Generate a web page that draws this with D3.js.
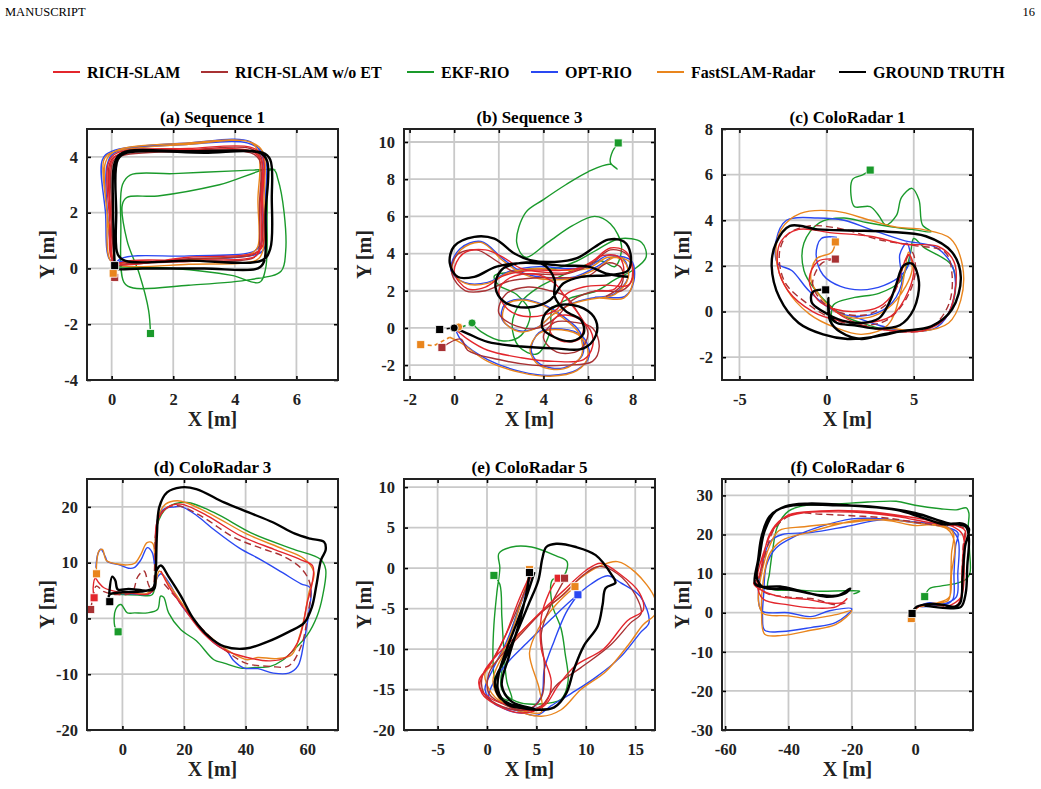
<!DOCTYPE html>
<html>
<head>
<meta charset="utf-8">
<script src="https://cdn.jsdelivr.net/npm/d3@7"></script>
<style>
  body { margin: 0; background: #fff; }
  text { font-family: "Liberation Serif", "Times New Roman", serif; }
</style>
</head>
<body>
<svg id="fig" width="1041" height="789"></svg>
<script>
// methods shown in the legend, drawn in this order of keys
var methods = ['RICH-SLAM', 'RICH-SLAM w/o ET', 'EKF-RIO', 'OPT-RIO', 'FastSLAM-Radar', 'GROUND TRUTH']
var keys = ['rich', 'noet', 'ekf', 'opt', 'fast', 'gt']
var colors = { rich: '#e3262c', noet: '#a83133', ekf: '#1a9a2b', opt: '#2a48f2', fast: '#e9851d', gt: '#000000' }

var titles = ['(a) Sequence 1', '(b) Sequence 3', '(c) ColoRadar 1', '(d) ColoRadar 3', '(e) ColoRadar 5', '(f) ColoRadar 6']
var xDomains = [[-0.8, 7.35], [-2.25, 9], [-6, 8.4], [-11.5, 70], [-8.4, 17], [-61, 18.3]]
var yDomains = [[-4, 5], [-2.8, 10.7], [-3, 8], [-20, 25], [-20, 11], [-30, 34.2]]
var xTickVals = [[0, 2, 4, 6], [-2, 0, 2, 4, 6, 8], [-5, 0, 5], [0, 20, 40, 60], [-5, 0, 5, 10, 15], [-60, -40, -20, 0]]
var yTickVals = [[-4, -2, 0, 2, 4], [-2, 0, 2, 4, 6, 8, 10], [-2, 0, 2, 4, 6, 8], [-20, -10, 0, 10, 20],
  [-20, -15, -10, -5, 0, 5, 10], [-30, -20, -10, 0, 10, 20, 30]]

// ---- (a) Sequence 1 ----
var a_gt = [[0.1,0.1],[0.05,0],[1,0],[3,0],[4.75,0],[4.95,0.25],[5.0,2],[5.05,3.85],[4.8,4.15],[3,4.15],[0.5,4.15],[0.2,3.9],[0.15,2],[0.2,0.5],[0.45,0.27],[2.5,0.28],[4.9,0.3],[5.15,0.7],[5.2,2.5],[5.15,3.9],[4.9,4.15],[2.5,4.2],[0.35,4.15],[0.1,3.8],[0.05,2],[0.1,0.1]]
var a_rich = [[0.05,-0.1],[0.3,0.2],[2.5,0.3],[4.6,0.4],[4.8,0.6],[4.85,2.2],[4.85,3.9],[4.55,4.2],[2.5,4.25],[0.3,4.1],[0,3.85],[-0.05,2],[0,0.35],[0.3,0.15],[2.5,0.4],[4.65,0.55],[4.9,0.8],[4.9,2.5],[4.9,4.05],[4.5,4.35],[2.5,4.3],[0.2,4.15],[-0.1,3.8],[-0.05,1.5],[0.05,-0.3]]
var a_noet = [[0.1,-0.35],[0.05,0.0],[0.35,0.12],[2.5,0.25],[4.55,0.35],[4.75,0.55],[4.8,2.3],[4.8,3.9],[4.5,4.15],[2.5,4.2],[0.35,4.05],[0.05,3.85],[0,2],[0.05,0.3],[0.35,0.2],[2.5,0.35],[4.6,0.5],[4.85,0.75],[4.85,2.5],[4.85,4.0],[4.5,4.3],[2.5,4.25],[0.25,4.1],[-0.05,3.8],[0,1.5],[0.1,0.05]]
var a_ekf = [[0.1,0.05],[2,0.0],[3.9,-0.25],[4.8,-0.5],[5.0,0],[5.05,2],[5.1,3.5],[5.3,3.55],[4,3.5],[2,3.4],[0.6,3.35],[0.35,3.0],[0.3,1.5],[0.4,-0.5],[0.7,-0.7],[2.5,-0.6],[4.5,-0.4],[5.5,-0.1],[5.65,0.6],[5.6,2.0],[5.4,3.2],[5.25,3.55],[3.5,3.0],[1.5,2.6],[0.5,2.55],[0.35,2.3],[0.5,1.0],[0.9,-0.2],[1.2,-1.5],[1.26,-2.33]]
var a_opt = [[0.05,0.0],[0.3,0.35],[2.5,0.45],[4.6,0.6],[4.85,0.9],[4.9,2.5],[4.9,4.0],[4.5,4.55],[2.5,4.5],[0.0,4.2],[-0.3,3.9],[-0.2,2],[-0.05,0.3],[0.3,0.25],[2.5,0.3],[4.7,0.5],[4.95,0.7],[5.0,2.5],[4.95,4.1],[4.4,4.5],[2.5,4.45],[0.1,4.15],[-0.15,3.7],[-0.1,1.5],[0.05,0.0]]
var a_fast = [[0.1,-0.2],[0.0,0.1],[0.4,0.2],[2.5,0.3],[4.55,0.55],[4.75,0.8],[4.75,2.5],[4.8,3.9],[4.55,4.5],[2.5,4.45],[0,4.15],[-0.25,3.9],[-0.15,2],[-0.05,0.3],[0.3,0.1],[2.5,0.15],[4.7,0.3],[4.9,0.6],[4.95,2.5],[4.9,4.2],[4.45,4.55],[2.5,4.5],[0.1,4.2],[-0.2,3.8],[-0.1,1.5],[0.1,-0.2]]
var a_ends = [['noet',0.1,-0.32],['fast',0.05,-0.17],['gt',0.1,0.1],['ekf',1.26,-2.33]]

// ---- (b) Sequence 3 ----
var b_gt = [[0,0],[0.6,-0.3],[1.5,-0.75],[3,-1.0],[4.5,-1.1],[5.8,-1.1],[6.35,-0.4],[6.35,0.4],[5.8,1.05],[4.8,1.25],[4.1,0.8],[3.95,0.0],[4.5,-0.5],[5.3,-0.7],[5.8,-0.3],[5.7,0.4],[5.0,0.9],[4.5,1.7],[4.5,2.6],[4.0,3.4],[3.0,3.5],[2.1,3.1],[1.85,2.2],[2.25,1.4],[3.3,1.1],[4.3,1.5],[4.9,2.4],[5.7,2.75],[7.0,2.85],[7.8,3.1],[7.9,4.0],[7.6,4.65],[6.9,4.75],[6.3,4.35],[5.5,3.75],[4.5,3.55],[3.4,3.65],[2.7,4.0],[1.8,4.8],[0.9,4.9],[0,4.4],[-0.2,3.5],[0.15,2.75],[0.9,2.75],[1.9,3.3],[3.2,3.5],[4.8,3.35],[6.0,3.3],[6.9,2.9],[7.8,2.75]]
var b_rich = [[0.0,0.0],[0.6,-0.6],[1.5,-1.2],[3,-1.6],[4.5,-1.8],[5.8,-1.7],[6.2,-1.0],[6.1,-0.1],[5.4,0.6],[4.6,0.6],[4.3,-0.2],[4.8,-0.7],[5.6,-0.6],[5.8,0.2],[5.3,1.2],[4.9,1.8],[4.5,2.4],[3.6,2.9],[2.5,2.7],[2.0,2.0],[2.4,1.0],[3.4,0.6],[4.6,1.0],[5.0,1.8],[5.8,2.2],[6.8,2.3],[7.8,2.3],[8.0,3.0],[7.7,4.1],[7.0,4.3],[6.2,3.6],[5.2,3.0],[4.0,3.0],[3.0,3.2],[2.2,3.8],[1.4,4.2],[0.4,4.0],[0.0,3.0],[0.6,2.1],[1.4,2.2],[2.2,2.8],[3.5,3.1],[4.8,3.1],[5.8,3.3],[6.7,3.9],[7.4,3.8],[7.6,3.0],[7.2,2.1],[6.3,2.0]]
var b_noet = [[-0.55,-1.05],[0.3,-0.6],[0.6,-1.2],[2,-1.7],[3.5,-2.0],[5,-2.0],[6.2,-1.8],[6.5,-1.0],[6.2,0],[5.4,0.3],[4.5,0.3],[4.0,-0.5],[4.6,-1.3],[5.6,-1.2],[6.0,-0.3],[5.5,0.9],[5.0,1.7],[4.3,2.0],[3.3,2.2],[2.3,1.8],[2.0,0.8],[2.8,0.1],[3.8,0.0],[4.6,0.6],[5.3,1.5],[6.4,2.0],[7.5,2.0],[8.0,2.7],[7.8,3.9],[7.0,4.2],[6.1,3.4],[5.0,2.9],[3.8,2.9],[2.7,3.0],[1.9,3.6],[1.0,4.2],[0.1,3.9],[-0.1,2.9],[0.5,2.0],[1.4,2.0],[2.4,2.5],[3.7,2.7],[5.0,2.7],[6.0,2.8],[6.9,3.5],[7.5,3.2],[7.5,2.3],[6.8,1.7]]
var b_ekf = [[0.8,0.27],[1.2,-0.2],[2.2,-0.7],[3.0,-0.4],[3.4,0.8],[2.8,1.8],[2.0,2.3],[1.8,2.8],[2.5,3.0],[3.6,3.2],[4.5,3.2],[5.5,3.6],[6.4,4.2],[7.4,4.8],[8.4,4.6],[8.6,3.8],[8.0,3.1],[7.2,2.6],[6.4,2.0],[5.2,1.6],[4.4,1.0],[4.3,-0.2],[3.7,-1.4],[2.9,-1.0],[2.6,0.2],[3.0,1.4],[3.8,2.2],[4.8,2.8],[5.7,3.3],[6.6,3.6],[7.2,3.3],[7.5,4.4],[7.0,5.6],[6.3,6.0],[5.3,5.5],[4.2,4.6],[3.2,3.8],[2.8,4.6],[3.2,6.2],[4.0,6.9],[5.0,7.7],[6.0,8.4],[7.0,8.8],[7.3,8.55],[7.0,8.9],[7.1,9.5],[7.35,9.95]]
var b_opt = [[0.1,-0.2],[0.4,-0.8],[1.5,-1.7],[3,-2.35],[4.3,-2.55],[5.5,-2.25],[6.05,-1.5],[5.75,-0.45],[4.8,-0.05],[3.8,-0.25],[3.45,-1.2],[3.85,-1.95],[4.9,-2.15],[5.75,-1.45],[5.65,-0.25],[4.85,0.65],[4.0,1.25],[3.0,1.55],[2.25,1.25],[2.15,0.45],[2.9,-0.15],[3.75,0.05],[4.45,0.75],[5.35,1.35],[6.45,1.65],[7.65,1.7],[8.05,2.5],[7.95,3.6],[7.2,3.85],[6.4,3.3],[5.4,2.75],[4.2,2.7],[3.1,2.95],[2.2,3.7],[1.2,4.65],[0.25,4.25],[-0.15,3.1],[0.45,2.45],[1.5,2.45],[2.5,3.05],[3.8,3.3],[5.0,3.2],[6.0,3.3],[6.9,3.9],[7.6,3.7],[7.8,2.75],[7.2,1.85],[6.3,1.65]]
var b_fast = [[-0.2,-0.5],[0.3,-0.8],[1.5,-1.8],[3,-2.4],[4.3,-2.6],[5.5,-2.3],[6.0,-1.5],[5.7,-0.5],[4.8,-0.1],[3.8,-0.3],[3.4,-1.2],[3.8,-2.0],[4.9,-2.2],[5.7,-1.5],[5.6,-0.3],[4.8,0.6],[4.0,1.2],[3.0,1.5],[2.3,1.2],[2.2,0.4],[2.9,-0.2],[3.7,0.0],[4.4,0.7],[5.3,1.3],[6.4,1.6],[7.6,1.6],[8.0,2.4],[7.9,3.5],[7.2,3.8],[6.4,3.2],[5.4,2.7],[4.2,2.6],[3.1,2.9],[2.2,3.6],[1.2,4.6],[0.3,4.2],[-0.1,3.1],[0.5,2.4],[1.5,2.4],[2.5,3.0],[3.8,3.2],[5.0,3.1],[6.0,3.2],[6.9,3.8],[7.6,3.6],[7.8,2.7],[7.2,1.8],[6.3,1.6]]
var b_links = [['gt',[[-0.65,-0.08],[0,0]]],['fast',[[-1.5,-0.9],[-0.9,-0.95],[-0.2,-0.5]]],['ekf',[[0.8,0.27],[0.35,0.05]]]]
var b_ends = [['gt',-0.65,-0.08],['fast',-1.5,-0.9],['noet',-0.55,-1.05],['ekf',7.35,9.95]]
var b_starts = [['fast',0.2,0.05],['gt',0,0],['ekf',0.8,0.27]]

// ---- (c) ColoRadar 1 ----
var c_gt = [[0,0.97],[-0.8,0.85],[-0.85,0.4],[-0.2,0.0],[0.9,-0.4],[2,-0.5],[3,-0.3],[3.6,0.4],[4.0,1.2],[4.4,2.0],[4.9,2.1],[5.3,1.3],[5.0,0.1],[4.2,-0.6],[3.0,-0.75],[1.6,-0.6],[0.6,-0.5],[0.2,-0.2],[0.1,0.6],[0.2,-0.4],[0.8,-0.9],[2,-1.2],[3.2,-1.0],[4.4,-0.85],[6.0,-0.65],[7.2,0.1],[7.7,1.5],[7.2,2.6],[5.7,3.3],[3.5,3.5],[1.5,3.55],[-0.5,3.6],[-2.1,3.75],[-2.9,3.0],[-3.15,2.0],[-2.7,0.6],[-1.6,-0.5],[-0.2,-1.0],[1.2,-1.2],[2.8,-1.1],[4.3,-0.85]]
var c_rich = [[0.5,2.3],[-0.5,2.2],[-1,1.4],[-0.5,0.5],[0.5,0.1],[1.7,0.0],[3,0.2],[3.9,0.9],[4.3,1.8],[4.7,2.5],[5.0,2.0],[4.7,0.9],[3.7,-0.2],[2.2,-0.5],[0.7,-0.4],[-0.8,0.0],[-2.2,0.9],[-2.8,2.0],[-2.6,3.1],[-1.6,3.6],[0.3,3.45],[2.5,3.3],[4.5,2.95],[6.4,2.85],[7.3,2.2],[7.35,0.8],[6.8,-0.3],[5.5,-0.85],[4,-0.85],[2.5,-0.7],[1,-0.25],[0.1,0.3]]
var c_noet = [[0.5,2.3],[-0.3,2.1],[-0.8,1.2],[-0.2,0.4],[0.8,-0.05],[2.2,-0.15],[3.4,0.3],[4.1,1.2],[4.5,2.2],[4.9,2.6],[5.1,1.8],[4.6,0.6],[3.4,-0.4],[1.8,-0.6],[0.3,-0.3],[-1.2,0.4],[-2.4,1.3],[-2.7,2.6],[-2.2,3.4],[-1,3.75],[1,3.6],[3,3.15],[5,2.9],[6.8,2.6],[7.2,1.6],[7.0,0.3],[6,-0.7],[4.5,-0.9],[3,-0.75]]
var c_ekf = [[0.3,-0.5],[0.4,0.3],[1.5,0.6],[3,0.8],[4.2,1.3],[4.8,2.5],[5.0,3.2],[5.6,2.8],[7.2,2.0],[7.3,0.5],[6.5,-0.5],[5,-0.8],[3.5,-0.8],[2,-0.5],[0.8,-0.1],[-0.7,1.0],[-1.3,1.8],[-1.3,3],[-0.4,3.9],[1,4.1],[2.3,3.9],[3.8,3.7],[4.9,3.6],[6,3.5],[5.5,3.8],[5.3,4.9],[4.9,5.4],[4.3,5.0],[4.0,4.2],[3.4,3.8],[3.0,4.2],[2.5,4.6],[1.6,4.6],[1.4,5.1],[1.5,5.8],[2.1,6.0],[2.5,6.2]]
var c_opt = [[0.6,3.25],[-0.3,3.2],[-0.6,2.5],[-0.2,1.6],[0.8,1.1],[2,0.95],[3.3,1.15],[4.3,1.6],[4.8,2.3],[4.6,3.0],[4.2,2.5],[4.3,1.2],[3.5,0.2],[2,-0.2],[0.5,0.0],[-1,0.9],[-2,1.8],[-2.8,2.1],[-2.9,3.1],[-2.3,4.0],[-0.5,4.1],[1,4.0],[2.5,3.6],[4.5,3.1],[6.3,2.8],[7.3,1.8],[7.2,0.3],[6.3,-0.7],[4.5,-0.85],[3,-0.6],[1.5,-0.2]]
var c_fast = [[0.5,3.05],[0.3,2.6],[-0.6,2.3],[-0.9,1.4],[-0.3,0.6],[0.5,0.0],[1.8,-0.3],[3,-0.1],[4,0.5],[4.9,1.8],[4.7,2.6],[4.3,1.0],[3.5,-0.6],[2,-1.0],[0.5,-0.7],[-1,-0.1],[-2.3,1],[-2.9,2.4],[-2.6,3.6],[-1.5,4.3],[0.5,4.4],[2.5,4.0],[4,3.7],[5.5,3.6],[7.1,3.2],[7.8,2.0],[7.7,0.5],[7,-0.5],[5.5,-0.85],[3.5,-0.7]]
var c_ends = [['ekf',2.5,6.2],['fast',0.5,3.05],['noet',0.5,2.3],['gt',-0.05,0.95]]

// ---- (d) ColoRadar 3 ----
var d_gt = [[-4.3,4.3],[-3.3,7.5],[-2.3,6.8],[-1.5,5.2],[2,5.3],[8,5.0],[10.3,5.3],[10.8,8],[11.2,15],[12,20],[14.5,22.6],[19,23.5],[24,23.2],[33,20.8],[41,19],[49,17.2],[56,15.2],[61,14.3],[65.5,13.7],[66,12.3],[64.5,10.5],[63,6],[61.5,2],[59,-0.8],[54,-2.4],[47,-4.2],[40,-5.4],[33,-5],[28,-3.2],[23,0],[19,4],[15,7.5],[12.5,9.5],[11,8.5],[10,5.5],[6,4.8],[0,4.7],[-4.3,4.2],[-4.1,3.0]]
var d_rich = [[-9.2,3.7],[-9.5,5.5],[-8.8,7.2],[-7.8,6.5],[-6,5.5],[-2,4.8],[3,4.5],[8.5,4.4],[10.3,5.5],[10.8,12],[11.2,17.2],[14.6,19.9],[19,20.5],[27.6,18.4],[38.4,14.8],[49.2,12.4],[58,10.5],[61.8,9.4],[61.5,6],[60,2.8],[58.5,-1.5],[56.8,-4.4],[53,-7.0],[48,-7.6],[40.5,-7.0],[33,-5.6],[26,-2.5],[20,1.8],[15,5.8],[12.5,8.5]]
var d_noet = [[-10.3,1.6],[-9.5,4],[-8.5,5.8],[-6,4.8],[-2,4.3],[3,4.6],[5,7.5],[7,8.5],[8.5,6],[9.8,4.8],[10.5,10],[11,16],[13.5,19.5],[18,20.2],[26,18.2],[36,14.6],[45,12.6],[52,11.2],[58,9.0],[61,6],[60,0],[58,-5],[54,-8.5],[48,-8.6],[40,-8],[33,-5.5],[27,-2.5],[22,0.5],[17,4],[13,6.5]]
var d_ekf = [[-4.3,4.5],[0,4.3],[5,4.2],[9.5,4.2],[10.5,5.5],[10.8,10],[11.2,16.6],[14.6,19.9],[21,20.8],[29.7,19],[42.7,15.1],[55.7,12.4],[64.3,10.6],[66,8.8],[65,4],[63.2,0.4],[60,-3],[55.7,-5.6],[52,-7.5],[48,-8.6],[43,-8.8],[38.4,-8.9],[33,-8],[29.7,-7.4],[24,-4],[18.9,-2.0],[15,1],[13.4,3.8],[12.4,4.0],[11.4,1.6],[8.1,1.0],[4,1.0],[1.6,1.0],[-0.5,2.5],[-2.2,1.6],[-2.5,-1.4],[-1.4,-2.4]]
var d_opt = [[-8.6,9.1],[-8,11.5],[-7,12.4],[-5.5,11],[-4.9,10.2],[-1,9.6],[2,9.0],[3.8,9.1],[6,10.5],[8.1,12.7],[9.7,11.8],[10.5,9.5],[10.9,14],[11.5,18],[13.5,19.6],[17,20],[19,20.1],[24,18.5],[30,15.8],[38,12.6],[45,10.5],[52,8.2],[58,6.2],[61,5.5],[60.5,1],[59,-4],[57,-8.5],[54,-9.8],[49,-9.8],[44,-9.0],[39.5,-8.9],[36,-7.5],[34,-5.9],[30,-4.5],[25,-1.5],[19,2.5],[15,6.5],[12.5,8],[11,7],[9,4.5],[3,4.4],[-2,4.5]]
var d_fast = [[-8.4,8.0],[-8.4,9.6],[-7.6,12.1],[-6.5,12.4],[-5.2,10.4],[-2,9.8],[1.5,9.6],[4,9.9],[6,11.5],[8,13.6],[9.8,13.5],[10.6,11],[10.8,15],[11.8,18.5],[14,20.5],[17.8,21.1],[21,20.7],[29.7,18.4],[40.5,15.1],[52.4,12.4],[59,10.7],[62.2,8.2],[60.5,4.5],[59,0],[57.5,-3.2],[55,-6.5],[50,-7.2],[44,-7.0],[40.5,-7.4],[35,-6.0],[30,-4],[25,-1.5],[20,2.2],[15,6.2],[12,8.5],[10.5,6],[8,4.5],[2,4.6],[-2,4.4]]
var d_ends = [['fast',-8.4,8.0],['rich',-9.2,3.7],['noet',-10.3,1.6],['gt',-4.1,3.0],['ekf',-1.4,-2.4]]

// ---- (e) ColoRadar 5 ----
var e_gt = [[4.8,-0.5],[4.0,-3.5],[3.0,-6.8],[2.0,-10],[1.2,-13],[1.1,-15],[2,-16.8],[3.5,-17.3],[5,-17.5],[6.8,-17.2],[8,-15.5],[8.8,-12.5],[9.8,-9.6],[11.2,-7.2],[11.7,-4.5],[12,-2.5],[13,-1.8],[12.6,-0.8],[11,1.6],[9,2.6],[7,3.0],[6,2.6],[5.6,1.2],[5.2,-1.5],[4.2,-4.5],[3,-8],[1.8,-11.3],[0.8,-14],[1.3,-16],[2.8,-17],[4.8,-17.4],[2.5,-16.5],[1.5,-14.5],[2.2,-11],[3.2,-7],[4.0,-3],[4.3,-0.6]]
var e_rich = [[4.5,-0.5],[3.2,-4],[1.8,-8.5],[0.3,-12],[-0.8,-13.8],[-0.5,-15.5],[0.8,-16.8],[3.5,-17.9],[5.8,-17],[7.2,-14.5],[9,-12],[11.8,-10],[14.2,-6.5],[15.8,-5.2],[15.4,-3],[13.5,-0.8],[11.5,0.6],[10,-0.3],[8,-2.5],[5.8,-5],[3.5,-7.8],[1.2,-10.5],[-0.3,-12.8],[-0.7,-14.8],[0.5,-16.2],[2.5,-17],[4.5,-17.6],[6,-16.5],[6.5,-14],[5.5,-10],[5.5,-6],[6.3,-3],[7.1,-1.3]]
var e_noet = [[4.6,-0.6],[3.5,-3.8],[2,-8],[0.5,-11.5],[-0.5,-13.5],[-0.3,-15.5],[1,-16.8],[3.5,-17.6],[5.5,-17],[7,-14.5],[9.5,-12.3],[12.5,-9.5],[14.5,-6.8],[15.6,-5.6],[15,-3.3],[13.2,-0.7],[11.3,0.2],[9.8,-0.8],[7.8,-3.2],[5.4,-5.6],[3.2,-8.5],[1.3,-11],[0.2,-13],[0.2,-15.5],[2,-17],[4,-17.5],[5.5,-16],[5.8,-12],[5.5,-8],[6.5,-4.5],[7.9,-1.3]]
var e_ekf = [[4.5,-0.5],[3.5,-4],[2.4,-8],[1.6,-12],[1.5,-15],[3,-16.5],[5.2,-16.8],[7.5,-16.2],[8.2,-14],[7.9,-10.5],[7.5,-7.5],[6.6,-4.5],[6.6,-1.5],[7.8,-0.9],[8.1,0.8],[7,1.5],[4.5,2.6],[2.5,2.6],[1.2,1.8],[1.3,0],[1.0,-3],[0.7,-7],[0.6,-11],[0.8,-14],[1.5,-16],[2.5,-16.3],[2.0,-14],[1.7,-10],[1.5,-6],[1.3,-2],[0.7,-0.9]]
var e_opt = [[4.5,-0.6],[3.4,-4.5],[2.0,-9],[0.6,-12.5],[-0.2,-15],[0.8,-16.8],[3,-17.6],[5,-18.2],[6.5,-17],[8.5,-15.5],[11,-13.5],[13.5,-11],[15.5,-8],[16.4,-6.7],[15.5,-3.5],[13.5,-1.8],[12.2,-0.95],[10.5,-2],[8.5,-4],[6.5,-6.3],[4,-9.3],[2.2,-11.5],[0.8,-13.8],[0.2,-16],[2,-17.5],[4,-17.8],[5.5,-15.8],[5.8,-12.5],[6.8,-9],[8,-5.5],[9.2,-3.3]]
var e_fast = [[4.4,-0.3],[3.5,-4],[2.3,-8.5],[1.0,-11.5],[-0.2,-13],[0.5,-15.5],[2.5,-17.3],[5.5,-18.3],[7.5,-17.5],[9.5,-15],[12,-12.8],[14.3,-9.5],[15.8,-7],[17,-5.7],[17,-3.8],[15,-0.5],[13.2,0.8],[11.5,0.3],[9.5,-1.2],[7.2,-3.8],[5,-6],[2.8,-8.8],[1.3,-11.5],[0.6,-14],[1.5,-16.5],[3.5,-17.6],[5.5,-17.8],[5.3,-15],[4.3,-10.5],[5.2,-7.5],[7,-4.5],[8.9,-2.3]]
var e_ends = [['ekf',0.7,-0.9],['fast',4.3,-0.2],['gt',4.3,-0.55],['rich',7.2,-1.25],['noet',7.85,-1.25],['fast',8.9,-2.3],['opt',9.2,-3.3]]

// ---- (f) ColoRadar 6 ----
var f_gt = [[-1,0],[0.5,1.5],[4,2.2],[9,2.0],[12.5,1.5],[14.3,2.6],[15,9],[15.8,17],[17,21.5],[15,22.8],[9,22.6],[2,24.4],[-6,26.3],[-20,27.4],[-34,27.9],[-41,27.2],[-46,24.6],[-48.5,19.5],[-49.6,13.5],[-50.6,7.5],[-49,6.7],[-42.7,6.7],[-35.4,5.4],[-28,4.1],[-22,5.0],[-20.5,6.2],[-24,4.5],[-30,4.5],[-40,6.0],[-48,6.5],[-50,9],[-49,15],[-47.5,21],[-44,26],[-38,27.5],[-26,27.5],[-12,27],[0,25.5],[10,23],[16,22],[17,19],[16.5,12],[16,5],[14.5,1.5],[10,1.2],[3,1.8]]
var f_rich = [[0.3,1.2],[4,2.2],[9,1.8],[13,1.8],[14.5,4],[14.8,10],[15.3,17],[15.8,21],[12,22.5],[5,23],[-5,24.5],[-15,25.5],[-25,25.8],[-35,25.6],[-42,24],[-46,20],[-48,14],[-49.5,9],[-51,7.5],[-48,5.5],[-42,4],[-34,3.4],[-28,2.5],[-23,2.6],[-21.5,3.6],[-25,1.5],[-32,1.2],[-40,2.0],[-48,3.5],[-50,8],[-48,15],[-45,21],[-40,25],[-30,26],[-18,26],[-6,25],[5,23.5],[12,22],[15,20],[15.5,12],[14.5,4],[10,1.5]]
var f_noet = [[0.3,1.2],[3,2.2],[8,1.8],[12.5,1.5],[14.5,3.2],[14.8,10],[15.2,17],[15.5,21.5],[13,22.2],[6,22.5],[-2,23.4],[-10,24.3],[-20,24.8],[-30,25.2],[-38,25.3],[-44,22],[-47,16],[-48.5,11],[-49.5,7],[-47,5],[-40,4],[-32,3.5],[-25,2.0],[-22,2.5]]
var f_ekf = [[3.05,4.1],[4.6,6.2],[8,6.8],[13,7.5],[16,8.5],[17.3,10],[17.2,16],[16.8,22],[17,25.5],[16.2,26.8],[13,26.3],[8,26.6],[0,27.5],[-6,28.5],[-15,28.3],[-25,27.8],[-34,27.5],[-40,26],[-43.5,22],[-45,16],[-46,10],[-46.5,6.5],[-44,5.8],[-38,5.8],[-30,5.5],[-22,5.6],[-17.5,5.5],[-19.5,4.8]]
var f_opt = [[0,1],[4,2.5],[10,2.2],[12,3.5],[12.3,10],[12.8,17],[13.5,20.5],[9,22],[0,23],[-10,24],[-20,24],[-30,22],[-38,19.5],[-44,16.5],[-47,12],[-47.8,5],[-48.2,-1],[-47.5,-4.5],[-42,-4.8],[-33,-3.8],[-25,-2.5],[-20,1.0],[-27,0.5],[-33,-1],[-40,0],[-48.5,0.5],[-49.5,5],[-48.5,11],[-46,18],[-42,20],[-33,20.5],[-22,22],[-10,23.8],[2,23],[10,22],[13.5,19],[13.5,10],[13,4],[8,2],[2,1.5]]
var f_fast = [[-1.2,-1.9],[1,1.5],[5,2.3],[10.5,3.2],[11.2,8],[11.5,15],[12,20.5],[8,22.5],[0,22.3],[-8,23.5],[-17,23.8],[-25,22.5],[-34,20.5],[-42,18.5],[-46,15],[-48,8],[-48.5,0],[-47.5,-5.5],[-42,-5.8],[-33,-4.5],[-25,-3],[-20,0.5],[-25,-0.5],[-33,-1.5],[-40,-0.8],[-48,-0.2],[-49.5,3],[-48.5,10],[-46,17],[-43,21],[-35,22],[-22,23],[-10,23.8],[2,22.8],[10,21.5],[12.5,18],[11.5,10],[10.8,4],[7,2.5],[1.5,1.5]]
var f_ends = [['fast',-1.2,-1.5],['gt',-0.95,-0.2],['ekf',3.05,4.1]]

var tracks = [
  { rich: a_rich, noet: a_noet, ekf: a_ekf, opt: a_opt, fast: a_fast, gt: a_gt },
  { rich: b_rich, noet: b_noet, ekf: b_ekf, opt: b_opt, fast: b_fast, gt: b_gt },
  { rich: c_rich, noet: c_noet, ekf: c_ekf, opt: c_opt, fast: c_fast, gt: c_gt },
  { rich: d_rich, noet: d_noet, ekf: d_ekf, opt: d_opt, fast: d_fast, gt: d_gt },
  { rich: e_rich, noet: e_noet, ekf: e_ekf, opt: e_opt, fast: e_fast, gt: e_gt },
  { rich: f_rich, noet: f_noet, ekf: f_ekf, opt: f_opt, fast: f_fast, gt: f_gt }
]
var endMarks = [a_ends, b_ends, c_ends, d_ends, e_ends, f_ends]
var startMarks = [[], b_starts, [], [], [], []]
var links = [[], b_links, [], [], [], []]

// layout
var colLeft = [87, 404, 722]
var rowTop = [129, 479]
var size = 251
var drawOrder = ['ekf', 'opt', 'fast', 'noet', 'rich', 'gt']
var dashedNoet = [false, false, true, true, false, true]

var svg = d3.select('#fig')

svg.append('text').attr('x', 5).attr('y', 16).attr('font-size', 12.5).text('MANUSCRIPT')
svg.append('text').attr('x', 1035).attr('y', 16).attr('text-anchor', 'end').attr('font-size', 12.5).text('16')

// legend
var legendX = [53, 201, 407, 531, 657, 839]
var gLegend = svg.append('g').attr('class', 'legend')
keys.forEach(function (k, i) {
  var g = gLegend.append('g').attr('transform', 'translate(' + legendX[i] + ',72)')
  g.append('line').attr('x1', 0).attr('x2', 27).attr('stroke', colors[k]).attr('stroke-width', 2)
  g.append('text').attr('x', 34).attr('y', 5.5)
    .attr('font-size', 16).attr('font-weight', 'bold').text(methods[i])
})

titles.forEach(function (title, i) {
  var left = colLeft[i % 3]
  var top = rowTop[Math.floor(i / 3)]

  var x = d3.scaleLinear().domain(xDomains[i]).range([0, size])
  var y = d3.scaleLinear().domain(yDomains[i]).range([size, 0])

  var g = svg.append('g').attr('transform', 'translate(' + left + ',' + top + ')')

  g.append('clipPath').attr('id', 'clip' + i)
    .append('rect').attr('width', size).attr('height', size)

  // grid
  var gGrid = g.append('g').attr('class', 'grid')
  gGrid.selectAll('line.gx').data(xTickVals[i]).enter().append('line')
    .attr('x1', function (d) { return x(d) }).attr('x2', function (d) { return x(d) })
    .attr('y1', 0).attr('y2', size)
    .attr('stroke', '#c9c9c9').attr('stroke-width', 1.8)
  gGrid.selectAll('line.gy').data(yTickVals[i]).enter().append('line')
    .attr('y1', function (d) { return y(d) }).attr('y2', function (d) { return y(d) })
    .attr('x1', 0).attr('x2', size)
    .attr('stroke', '#c9c9c9').attr('stroke-width', 1.8)

  var line = d3.line()
    .x(function (d) { return x(d[0]) })
    .y(function (d) { return y(d[1]) })
    .curve(d3.curveCatmullRom.alpha(0.5))

  var gChart = g.append('g').attr('clip-path', 'url(#clip' + i + ')')

  drawOrder.forEach(function (k) {
    var p = gChart.append('path')
      .attr('d', line(tracks[i][k]))
      .attr('fill', 'none')
      .attr('stroke', colors[k])
      .attr('stroke-width', k === 'gt' ? 2.4 : 1.4)
      .attr('stroke-linejoin', 'round')
    if (k === 'noet' && dashedNoet[i]) p.attr('stroke-dasharray', '7,4')
  })

  links[i].forEach(function (l) {
    gChart.append('path')
      .attr('d', d3.line().x(function (d) { return x(d[0]) }).y(function (d) { return y(d[1]) })(l[1]))
      .attr('fill', 'none').attr('stroke', colors[l[0]])
      .attr('stroke-width', 1.6).attr('stroke-dasharray', '4,3')
  })

  gChart.selectAll('rect.end').data(endMarks[i]).enter().append('rect')
    .attr('x', function (d) { return x(d[1]) - 4 })
    .attr('y', function (d) { return y(d[2]) - 4 })
    .attr('width', 8).attr('height', 8)
    .attr('fill', function (d) { return colors[d[0]] })
    .attr('stroke', '#fff').attr('stroke-width', 0.8)

  gChart.selectAll('circle.start').data(startMarks[i]).enter().append('circle')
    .attr('cx', function (d) { return x(d[1]) })
    .attr('cy', function (d) { return y(d[2]) })
    .attr('r', 4)
    .attr('fill', function (d) { return colors[d[0]] })
    .attr('stroke', '#fff').attr('stroke-width', 0.8)

  // axes with inward ticks on every side
  var fmt = function (t) { return String(t) }
  var gx = g.append('g').attr('transform', 'translate(0,' + size + ')')
    .call(d3.axisBottom(x).tickValues(xTickVals[i]).tickSize(-4).tickPadding(13).tickFormat(fmt))
  var gy = g.append('g')
    .call(d3.axisLeft(y).tickValues(yTickVals[i]).tickSize(-4).tickPadding(9).tickFormat(fmt))
  var gt = g.append('g')
    .call(d3.axisTop(x).tickValues(xTickVals[i]).tickSize(-4).tickFormat(''))
  var gr = g.append('g').attr('transform', 'translate(' + size + ',0)')
    .call(d3.axisRight(y).tickValues(yTickVals[i]).tickSize(-4).tickFormat(''))

  ;[gx, gy, gt, gr].forEach(function (a) {
    a.select('.domain').remove()
    a.selectAll('.tick line').attr('stroke', '#000').attr('stroke-width', 1.6)
    a.selectAll('text')
      .attr('font-family', '"Liberation Serif", "Times New Roman", serif')
      .attr('font-size', 16.5).attr('font-weight', 'bold').attr('fill', '#222')
  })

  g.append('rect').attr('width', size).attr('height', size)
    .attr('fill', 'none').attr('stroke', '#222').attr('stroke-width', 2)

  g.append('text').attr('x', size / 2).attr('y', -6)
    .attr('text-anchor', 'middle').attr('font-size', 17).attr('font-weight', 'bold')
    .text(title)

  g.append('text').attr('x', size / 2).attr('y', size + 46)
    .attr('text-anchor', 'middle').attr('font-size', 20).attr('font-weight', 'bold').attr('fill', '#222')
    .text('X [m]')

  g.append('text')
    .attr('transform', 'translate(-33,' + (size / 2) + ') rotate(-90)')
    .attr('text-anchor', 'middle').attr('font-size', 20).attr('font-weight', 'bold').attr('fill', '#222')
    .text('Y [m]')
})
</script>
</body>
</html>
